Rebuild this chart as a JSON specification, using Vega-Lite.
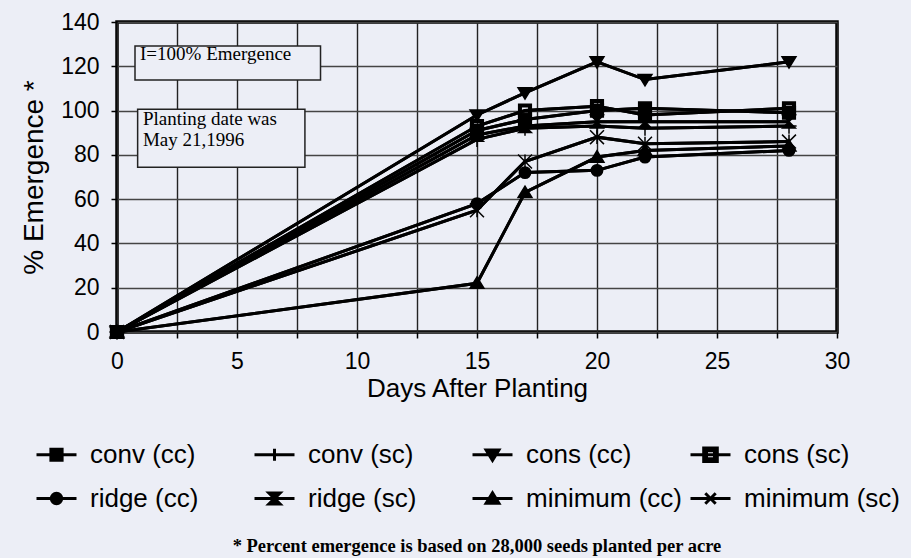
{
  "$schema": "https://vega.github.io/schema/vega-lite/v6.json",
  "width": 720,
  "height": 310,
  "autosize": {"type": "none"},
  "padding": {"left": 117, "top": 22, "right": 74, "bottom": 226},
  "background": "#eceef6",
  "config": {
    "view": {"stroke": "black", "strokeWidth": 3.5, "fill": "#eceef6"},
    "font": "Liberation Sans"
  },
  "title": {
    "text": "* Percent emergence is based on 28,000 seeds planted per acre",
    "orient": "bottom",
    "anchor": "middle",
    "font": "Liberation Serif",
    "fontWeight": "bold",
    "fontSize": 18.5,
    "color": "black",
    "offset": 25
  },
  "data": {
    "values": [
      {"series": "conv (cc)", "day": 0, "pct": 0},
      {"series": "conv (cc)", "day": 15, "pct": 91},
      {"series": "conv (cc)", "day": 17, "pct": 96},
      {"series": "conv (cc)", "day": 20, "pct": 100},
      {"series": "conv (cc)", "day": 22, "pct": 101},
      {"series": "conv (cc)", "day": 28, "pct": 99},
      {"series": "conv (sc)", "day": 0, "pct": 0},
      {"series": "conv (sc)", "day": 15, "pct": 87},
      {"series": "conv (sc)", "day": 17, "pct": 92},
      {"series": "conv (sc)", "day": 20, "pct": 93},
      {"series": "conv (sc)", "day": 22, "pct": 92},
      {"series": "conv (sc)", "day": 28, "pct": 93},
      {"series": "cons (cc)", "day": 0, "pct": 0},
      {"series": "cons (cc)", "day": 15, "pct": 98},
      {"series": "cons (cc)", "day": 17, "pct": 108},
      {"series": "cons (cc)", "day": 20, "pct": 122},
      {"series": "cons (cc)", "day": 22, "pct": 114},
      {"series": "cons (cc)", "day": 28, "pct": 122},
      {"series": "cons (sc)", "day": 0, "pct": 0},
      {"series": "cons (sc)", "day": 15, "pct": 93},
      {"series": "cons (sc)", "day": 17, "pct": 100},
      {"series": "cons (sc)", "day": 20, "pct": 102},
      {"series": "cons (sc)", "day": 22, "pct": 98},
      {"series": "cons (sc)", "day": 28, "pct": 101},
      {"series": "ridge (cc)", "day": 0, "pct": 0},
      {"series": "ridge (cc)", "day": 15, "pct": 58},
      {"series": "ridge (cc)", "day": 17, "pct": 72},
      {"series": "ridge (cc)", "day": 20, "pct": 73},
      {"series": "ridge (cc)", "day": 22, "pct": 79},
      {"series": "ridge (cc)", "day": 28, "pct": 82},
      {"series": "ridge (sc)", "day": 0, "pct": 0},
      {"series": "ridge (sc)", "day": 15, "pct": 89},
      {"series": "ridge (sc)", "day": 17, "pct": 93},
      {"series": "ridge (sc)", "day": 20, "pct": 95},
      {"series": "ridge (sc)", "day": 22, "pct": 95},
      {"series": "ridge (sc)", "day": 28, "pct": 95},
      {"series": "minimum (cc)", "day": 0, "pct": 0},
      {"series": "minimum (cc)", "day": 15, "pct": 22},
      {"series": "minimum (cc)", "day": 17, "pct": 63},
      {"series": "minimum (cc)", "day": 20, "pct": 79},
      {"series": "minimum (cc)", "day": 22, "pct": 82},
      {"series": "minimum (cc)", "day": 28, "pct": 84},
      {"series": "minimum (sc)", "day": 0, "pct": 0},
      {"series": "minimum (sc)", "day": 15, "pct": 55},
      {"series": "minimum (sc)", "day": 17, "pct": 77},
      {"series": "minimum (sc)", "day": 20, "pct": 88},
      {"series": "minimum (sc)", "day": 22, "pct": 85},
      {"series": "minimum (sc)", "day": 28, "pct": 86}
    ]
  },
  "resolve": {"scale": {"shape": "independent"}},
  "layer": [
    {
      "mark": {"type": "line", "stroke": "black", "strokeWidth": 3},
      "encoding": {
        "x": {
          "field": "day",
          "type": "quantitative",
          "scale": {"domain": [0, 30], "nice": false, "zero": false},
          "axis": {
            "title": "Days After Planting",
            "values": [0, 2.5, 5, 7.5, 10, 12.5, 15, 17.5, 20, 22.5, 25, 27.5, 30],
            "labelExpr": "datum.value % 5 === 0 ? datum.label : ''",
            "domain": false,
            "grid": true,
            "gridColor": "#222",
            "gridWidth": 1.4,
            "gridOpacity": 1,
            "ticks": true,
            "tickColor": "black",
            "tickWidth": 1.5,
            "tickSize": 6,
            "labelFont": "Liberation Sans",
            "labelFontSize": 23,
            "labelColor": "black",
            "labelPadding": 12,
            "labelFlush": false,
            "labelOverlap": false,
            "titleFont": "Liberation Sans",
            "titleFontSize": 26,
            "titleFontWeight": "normal",
            "titleColor": "black",
            "titlePadding": 2
          }
        },
        "y": {
          "field": "pct",
          "type": "quantitative",
          "scale": {"domain": [0, 140], "nice": false},
          "axis": {
            "title": "% Emergence *",
            "values": [0, 10, 20, 30, 40, 50, 60, 70, 80, 90, 100, 110, 120, 130, 140],
            "labelExpr": "datum.value % 20 === 0 ? datum.label : ''",
            "domain": false,
            "grid": true,
            "gridColor": "#444",
            "gridWidth": 1.4,
            "gridOpacity": 1,
            "ticks": true,
            "tickColor": "black",
            "tickWidth": 1.5,
            "tickSize": 6,
            "labelFont": "Liberation Sans",
            "labelFontSize": 23,
            "labelColor": "black",
            "labelPadding": 12,
            "labelFlush": false,
            "labelOverlap": false,
            "titleFont": "Liberation Sans",
            "titleFontSize": 28,
            "titleFontWeight": "normal",
            "titleColor": "black",
            "titlePadding": 12
          }
        },
        "detail": {"field": "series"}
      }
    },
    {
      "data": {"values": [{"note": "I=100% Emergence"}]},
      "mark": {"type": "rect", "fill": "#eceef6", "stroke": "#222", "strokeWidth": 1.5},
      "encoding": {
        "x": {"datum": 0.75, "type": "quantitative"},
        "x2": {"datum": 8.48},
        "y": {"datum": 129.2, "type": "quantitative"},
        "y2": {"datum": 113.8}
      }
    },
    {
      "data": {"values": [{"note": "I=100% Emergence"}]},
      "mark": {"type": "text", "align": "left", "baseline": "alphabetic", "font": "Liberation Serif", "fontSize": 19, "color": "black"},
      "encoding": {
        "x": {"datum": 0.96, "type": "quantitative"},
        "y": {"datum": 122.9, "type": "quantitative"},
        "text": {"field": "note"}
      }
    },
    {
      "data": {"values": [{"note": "Planting date was\nMay 21,1996"}]},
      "mark": {"type": "rect", "fill": "#eceef6", "stroke": "#222", "strokeWidth": 1.5},
      "encoding": {
        "x": {"datum": 0.86, "type": "quantitative"},
        "x2": {"datum": 7.83},
        "y": {"datum": 100.6, "type": "quantitative"},
        "y2": {"datum": 74.4}
      }
    },
    {
      "data": {"values": [{"note": "Planting date was\nMay 21,1996"}]},
      "mark": {"type": "text", "align": "left", "baseline": "alphabetic", "font": "Liberation Serif", "fontSize": 19, "color": "black", "lineBreak": "\n", "lineHeight": 21},
      "encoding": {
        "x": {"datum": 1.08, "type": "quantitative"},
        "y": {"datum": 93.5, "type": "quantitative"},
        "text": {"field": "note"}
      }
    },
    {
      "mark": {"type": "line", "stroke": "black", "strokeWidth": 3},
      "encoding": {
        "x": {"field": "day", "type": "quantitative"},
        "y": {"field": "pct", "type": "quantitative"},
        "detail": {"field": "series"}
      }
    },
    {
      "mark": {"type": "point", "filled": true, "fill": "black", "stroke": "black", "strokeWidth": 1.5, "size": 160, "opacity": 1},
      "encoding": {
        "x": {"field": "day", "type": "quantitative"},
        "y": {"field": "pct", "type": "quantitative"},
        "shape": {
          "field": "series",
          "type": "nominal",
          "legend": null,
          "scale": {
            "domain": ["conv (cc)", "conv (sc)", "cons (cc)", "cons (sc)", "ridge (cc)", "ridge (sc)", "minimum (cc)", "minimum (sc)"],
            "range": [
              "M-1,-1H1V1H-1Z",
              "M-1.2,0H1.2M0,-1.2V1.2",
              "M-1.1,-0.8L1.1,-0.8L0,1Z",
              "M-1,-1H1V1H-1ZM-0.6,-0.6V0.6H0.6V-0.6Z",
              "M-0.9,0A0.9,0.9,0,1,1,0.9,0A0.9,0.9,0,1,1,-0.9,0Z",
              "M-1,-1H1L-1,1H1Z",
              "M-1.1,0.8L1.1,0.8L0,-1Z",
              "M-1.1,-1.1L1.1,1.1M-1.1,1.1L1.1,-1.1M0,-1.1V1.1"
            ]
          }
        }
      }
    },
    {
      "mark": {"type": "point", "filled": true, "fill": "black", "stroke": "black", "strokeWidth": 3, "size": 0},
      "encoding": {
        "x": {"field": "day", "type": "quantitative"},
        "y": {"field": "pct", "type": "quantitative"},
        "shape": {
          "field": "series",
          "type": "nominal",
          "scale": {
            "domain": ["conv (cc)", "conv (sc)", "cons (cc)", "cons (sc)", "ridge (cc)", "ridge (sc)", "minimum (cc)", "minimum (sc)"],
            "range": [
              "M-1,0H1M-0.28,-0.28H0.28V0.28H-0.28Z",
              "M-1,0H1M0,-0.3V0.3",
              "M-1,0H1M-0.32,-0.24L0.32,-0.24L0,0.28Z",
              "M-1,0H1M-0.34,-0.34H0.34V0.34H-0.34ZM-0.2,-0.2V0.2H0.2V-0.2Z",
              "M-1,0H1M-0.26,0A0.26,0.26,0,1,1,0.26,0A0.26,0.26,0,1,1,-0.26,0Z",
              "M-1,0H1M-0.28,-0.28H0.28L-0.28,0.28H0.28Z",
              "M-1,0H1M-0.32,0.24L0.32,0.24L0,-0.28Z",
              "M-1,0H1M-0.26,-0.26L0.26,0.26M-0.26,0.26L0.26,-0.26"
            ]
          },
          "legend": {
            "orient": "none",
            "legendX": -82,
            "legendY": 411,
            "direction": "horizontal",
            "columns": 4,
            "title": null,
            "symbolSize": 1600,
            "symbolStrokeWidth": 3,
            "symbolFillColor": "black",
            "symbolStrokeColor": "black",
            "symbolOpacity": 1,
            "labelFont": "Liberation Sans",
            "labelFontSize": 26,
            "labelColor": "black",
            "labelOffset": 12,
            "labelLimit": 400,
            "columnPadding": 2,
            "rowPadding": 9,
            "gridAlign": "all",
            "encoding": {
              "symbols": {
                "stroke": {"value": "black"},
                "strokeWidth": {"value": 3},
                "fill": {"value": "black"},
                "opacity": {"value": 1},
                "size": {"value": 1600}
              }
            }
          }
        }
      }
    }
  ]
}
